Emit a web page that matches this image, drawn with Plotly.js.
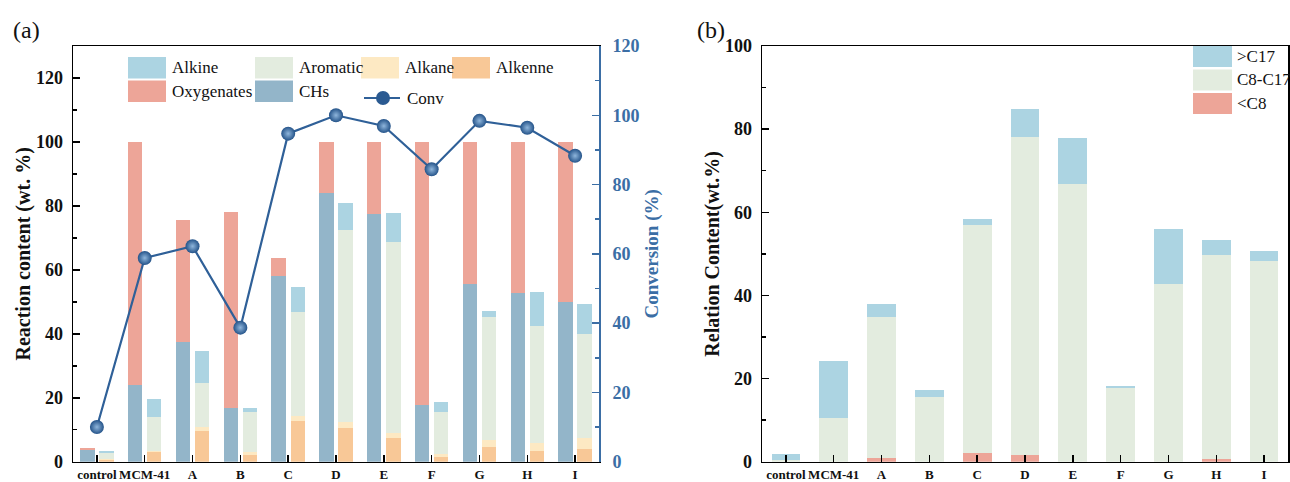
<!DOCTYPE html>
<html>
<head>
<meta charset="utf-8">
<script src="https://cdn.plot.ly/plotly-3.0.1.min.js"></script>
<style>html,body{margin:0;padding:0;background:#fff;}#chart{width:1290px;height:482px;}</style>
</head>
<body>
<div id="chart"></div>
<script>
// ---- data ----
const categories = ['control','MCM-41','A','B','C','D','E','F','G','H','I'];
// panel (a), left stack
const chs        = [3.6, 24.0, 37.5, 16.8, 58.2, 84.1, 77.4, 17.8, 55.6, 52.8, 50.0];
const oxygenates = [0.8, 76.0, 38.0, 61.4, 5.5, 15.9, 22.6, 82.2, 44.4, 47.2, 50.0];
// panel (a), right stack
const alkenne  = [0.5, 3.0, 9.7, 2.2, 12.8, 10.5, 7.3, 1.4, 4.5, 3.2, 4.1];
const alkane   = [0.5, 0.3, 1.0, 0.8, 1.6, 1.8, 1.7, 1.0, 2.4, 2.8, 3.3];
const aromatic = [1.8, 10.8, 13.8, 12.7, 32.3, 60.1, 59.8, 13.3, 38.4, 36.5, 32.5];
const alkine   = [0.7, 5.4, 10.2, 1.1, 8.0, 8.4, 8.9, 3.1, 1.9, 10.6, 9.4];
// panel (a), conversion line
const conv = [10.0, 58.8, 62.2, 38.7, 94.7, 100.0, 96.9, 84.4, 98.4, 96.4, 88.3];
// panel (b)
const belowC8 = [0, 0, 1.0, 0, 2.0, 1.5, 0, 0, 0, 0.6, 0];
const c8toC17 = [0.4, 10.4, 33.8, 15.6, 54.9, 76.7, 66.7, 17.7, 42.8, 49.2, 48.3];
const aboveC17 = [1.4, 13.8, 3.1, 1.6, 1.6, 6.6, 11.2, 0.5, 13.2, 3.6, 2.3];

// ---- styling ----
const W = 1290, H = 482;
const col = {
  oxy: '#eda598', chs: '#93b5c9', alkine: '#acd4e2', arom: '#e3ecdf',
  alkane: '#fde9c3', alkenne: '#f8c897', conv: '#2f6098', axisBlue: '#3b6ea5'
};
const serif = 'Liberation Serif';
const idx = categories.map((c, i) => i);
const leftX = idx.map(i => i - 0.2);
const rightX = idx.map(i => i + 0.2);

function bar(name, x, y, color, w, xa, ya) {
  return {type: 'bar', name, x, y, width: w, xaxis: xa, yaxis: ya,
    marker: {color, line: {width: 0}}, showlegend: false, hoverinfo: 'y+name'};
}

const data = [
  bar('CHs', leftX, chs, col.chs, 0.3, 'x', 'y'),
  bar('Oxygenates', leftX, oxygenates, col.oxy, 0.3, 'x', 'y'),
  bar('Alkenne', rightX, alkenne, col.alkenne, 0.3, 'x', 'y'),
  bar('Alkane', rightX, alkane, col.alkane, 0.3, 'x', 'y'),
  bar('Aromatic', rightX, aromatic, col.arom, 0.3, 'x', 'y'),
  bar('Alkine', rightX, alkine, col.alkine, 0.3, 'x', 'y'),
  {type: 'scatter', mode: 'lines+markers', name: 'Conv', x: idx, y: conv,
   xaxis: 'x', yaxis: 'y2', showlegend: false,
   line: {color: col.conv, width: 2.2},
   marker: {size: 14, color: '#245389', gradient: {type: 'radial', color: '#8fb6dc'},
            line: {width: 0}}},
  bar('<C8', idx, belowC8, col.oxy, 0.6, 'x2', 'y3'),
  bar('C8-C17', idx, c8toC17, col.arom, 0.6, 'x2', 'y3'),
  bar('>C17', idx, aboveC17, col.alkine, 0.6, 'x2', 'y3')
];

const X = px => px / W;
const Y = py => 1 - py / H;

const xTickFont = {family: serif, size: 13, color: '#111', weight: 'bold'};

const baseX = {
  tickmode: 'array', tickvals: idx, ticktext: categories, tickangle: 0,
  range: [-0.5, 10.5], showline: true, linecolor: '#000', linewidth: 1.5,
  mirror: true, ticks: 'inside', ticklen: 7, tickwidth: 1.5, tickcolor: '#000',
  showgrid: false, zeroline: false, fixedrange: true,
  tickfont: xTickFont, ticklabelstandoff: 0
};

const layout = {
  width: W, height: H,
  margin: {l: 0, r: 0, t: 0, b: 0},
  paper_bgcolor: '#fff', plot_bgcolor: 'rgba(0,0,0,0)',
  barmode: 'stack', bargap: 0,
  showlegend: false,
  font: {family: serif},
  xaxis: Object.assign({}, baseX, {domain: [X(73), X(599)], anchor: 'y'}),
  yaxis: {
    domain: [Y(461.7), Y(46)], anchor: 'x', range: [0, 130],
    tickvals: [0, 20, 40, 60, 80, 100, 120],
    showline: true, linecolor: '#000', linewidth: 1.5, mirror: false,
    ticks: 'inside', ticklen: 7, tickwidth: 1.5, tickcolor: '#000',
    minor: {tickvals: [10, 30, 50, 70, 90, 110, 130], ticks: 'inside', ticklen: 4, tickwidth: 1.5, tickcolor: '#000'},
    showgrid: false, zeroline: false, fixedrange: true,
    tickfont: {family: serif, size: 18, color: '#111', weight: 'bold'}, ticklabelstandoff: 5,
    title: {text: 'Reaction content (wt. %)', standoff: 0,
            font: {family: serif, size: 20, color: '#111', weight: 'bold'}}
  },
  yaxis2: {
    overlaying: 'y', side: 'right', anchor: 'x', range: [0, 120],
    tickvals: [0, 20, 40, 60, 80, 100, 120],
    showline: true, linecolor: col.axisBlue, linewidth: 1.8,
    ticks: 'inside', ticklen: 7, tickwidth: 1.5, tickcolor: col.axisBlue,
    minor: {tickvals: [10, 30, 50, 70, 90, 110], ticks: 'inside', ticklen: 4, tickwidth: 1.5, tickcolor: col.axisBlue},
    showgrid: false, zeroline: false, fixedrange: true,
    tickfont: {family: serif, size: 18, color: col.axisBlue, weight: 'bold'}, ticklabelstandoff: 8,
    title: {text: 'Conversion (%)', standoff: 6,
            font: {family: serif, size: 19, color: col.axisBlue, weight: 'bold'}}
  },
  xaxis2: Object.assign({}, baseX, {domain: [X(762), X(1288)], anchor: 'y3'}),
  yaxis3: {
    domain: [Y(461.7), Y(46)], anchor: 'x2', range: [0, 100],
    tickvals: [0, 20, 40, 60, 80, 100],
    showline: true, linecolor: '#000', linewidth: 1.5, mirror: true,
    ticks: 'inside', ticklen: 7, tickwidth: 1.5, tickcolor: '#000',
    minor: {tickvals: [10, 30, 50, 70, 90], ticks: 'inside', ticklen: 4, tickwidth: 1.5, tickcolor: '#000'},
    showgrid: false, zeroline: false, fixedrange: true,
    tickfont: {family: serif, size: 18, color: '#111', weight: 'bold'}, ticklabelstandoff: 5,
    title: {text: 'Relation Content(wt.%)', standoff: 0,
            font: {family: serif, size: 20, color: '#111', weight: 'bold'}}
  },
  shapes: [],
  annotations: [
    {text: '(a)', x: X(26), y: Y(30), xref: 'paper', yref: 'paper', showarrow: false,
     xanchor: 'center', yanchor: 'middle', font: {family: serif, size: 24, color: '#111'}},
    {text: '(b)', x: X(711), y: Y(30), xref: 'paper', yref: 'paper', showarrow: false,
     xanchor: 'center', yanchor: 'middle', font: {family: serif, size: 24, color: '#111'}}
  ]
};

// ---- custom legends (large swatches as in the original figure) ----
const legA = [
  {name: 'Alkine', color: col.alkine, x0: 128, row: 0},
  {name: 'Aromatic', color: col.arom, x0: 255, row: 0},
  {name: 'Alkane', color: col.alkane, x0: 361, row: 0},
  {name: 'Alkenne', color: col.alkenne, x0: 452, row: 0},
  {name: 'Oxygenates', color: col.oxy, x0: 128, row: 1},
  {name: 'CHs', color: col.chs, x0: 255, row: 1}
];
const rowsA = [[57, 78.5], [80.5, 102]];
legA.forEach(e => {
  const r = rowsA[e.row];
  layout.shapes.push({type: 'rect', xref: 'paper', yref: 'paper',
    x0: X(e.x0), x1: X(e.x0 + 38), y0: Y(r[1]), y1: Y(r[0]),
    fillcolor: e.color, line: {width: 0}});
  layout.annotations.push({text: e.name, xref: 'paper', yref: 'paper', showarrow: false,
    x: X(e.x0 + 42), y: Y((r[0] + r[1]) / 2), xanchor: 'left', yanchor: 'middle',
    font: {family: serif, size: 17, color: '#111'}});
});
// Conv legend entry
layout.shapes.push({type: 'line', xref: 'paper', yref: 'paper',
  x0: X(364), x1: X(400), y0: Y(98), y1: Y(98), line: {color: col.conv, width: 2}});
layout.shapes.push({type: 'circle', xref: 'paper', yref: 'paper',
  x0: X(376), x1: X(390), y0: Y(105), y1: Y(91), fillcolor: '#2a5a91', line: {width: 0}});
layout.annotations.push({text: 'Conv', xref: 'paper', yref: 'paper', showarrow: false,
  x: X(405), y: Y(99), xanchor: 'left', yanchor: 'middle',
  font: {family: serif, size: 17, color: '#111'}});

const legB = [
  {name: '>C17', color: col.alkine, r: [46, 67]},
  {name: 'C8-C17', color: col.arom, r: [69.5, 90.5]},
  {name: '<C8', color: col.oxy, r: [93, 114]}
];
legB.forEach(e => {
  layout.shapes.push({type: 'rect', xref: 'paper', yref: 'paper',
    x0: X(1193), x1: X(1232), y0: Y(e.r[1]), y1: Y(e.r[0]),
    fillcolor: e.color, line: {width: 0}});
  layout.annotations.push({text: e.name.replace('<', '&lt;').replace('>', '&gt;'), xref: 'paper', yref: 'paper', showarrow: false,
    x: X(1235), y: Y((e.r[0] + e.r[1]) / 2), xanchor: 'left', yanchor: 'middle',
    font: {family: serif, size: 17, color: '#111'}});
});

Plotly.newPlot('chart', data, layout, {displayModeBar: false, staticPlot: true});
</script>
</body>
</html>
